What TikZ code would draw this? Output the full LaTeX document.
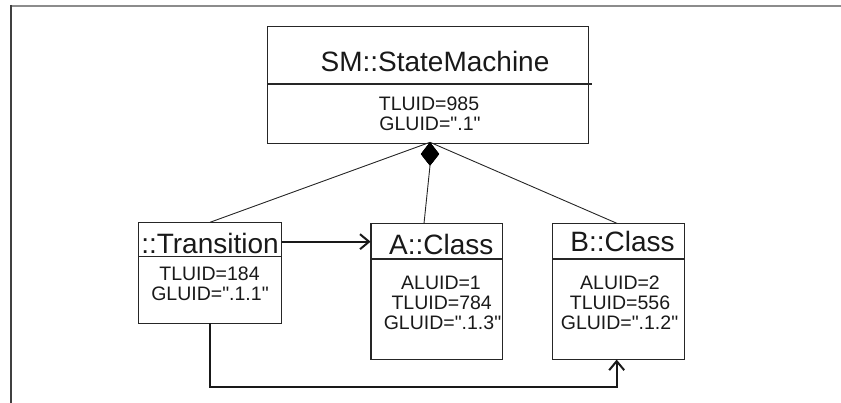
\documentclass[tikz,border=0pt]{standalone}
\usepackage{fontspec}
\setmainfont{Liberation Sans}[Ligatures=TeXOff]
\usetikzlibrary{arrows.meta,shapes.geometric}
\begin{document}
\begin{tikzpicture}[x=1pt,y=-1pt,
  box/.style={draw=black!85, line width=1.2pt, inner sep=0pt, outer sep=0pt, anchor=north west},
  divider/.style={draw=black!85, line width=1.2pt},
  big/.style={font=\fontsize{28}{28}\selectfont, inner sep=0pt, anchor=base, text=black!90},
  small/.style={font=\fontsize{19.5}{20}\selectfont, inner sep=0pt, anchor=base, text=black!90},
  link/.style={draw=black!85, line width=0.9pt},
  nav/.style={draw=black!90, line width=2pt, -{Straight Barb[length=9pt,width=15pt]}},
  comp/.style={diamond, fill=black, draw=black, inner sep=0pt, minimum width=18pt, minimum height=23pt}
]
\useasboundingbox (0,0) rectangle (841,403);
% frame
\coordinate (f0) at (10,6);
\coordinate (f1) at (841,6);
\coordinate (f2) at (10.5,5);
\coordinate (f3) at (10.5,403);
\draw[gray!90, line width=2pt] (f0) -- (f1);
\draw[black!75, line width=2pt] (f2) -- (f3);

% boxes
\node[box, minimum width=321pt, minimum height=116.6pt] (sm) at (267.3,26.7) {};
\node[box, minimum width=143.4pt, minimum height=101pt] (tr) at (138.3,222.3) {};
\node[box, minimum width=131.5pt, minimum height=135.8pt] (ac) at (371,223.5) {};
\node[box, minimum width=131.8pt, minimum height=135.8pt] (bc) at (552.3,223.5) {};

% dividers
\coordinate (smd1) at (267.3,84);   \coordinate (smd2) at (591.7,84);
\coordinate (trd1) at (138.3,256.7); \coordinate (trd2) at (281.7,256.7);
\coordinate (acd1) at (371,259);    \coordinate (acd2) at (502.5,259);
\coordinate (bcd1) at (552.3,259);  \coordinate (bcd2) at (684.1,259);
\draw[divider] (smd1) -- (smd2);
\draw[divider] (trd1) -- (trd2);
\draw[divider] (acd1) -- (acd2);
\draw[divider] (bcd1) -- (bcd2);

% texts
\node[big] (smt) at (435,71.7) {SM::StateMachine};
\node[small] (sm1) at (429,110.7) {TLUID=985};
\node[small] (sm2) at (430,130.5) {GLUID=".1"};

\node[big] (trt) at (210,253.3) {::Transition};
\node[small] (tr1) at (209.5,280.7) {TLUID=184};
\node[small] (tr2) at (210,300.7) {GLUID=".1.1"};

\node[big] (act) at (441.3,254.3) {A::Class};
\node[small] (ac1) at (441,290) {ALUID=1};
\node[small] (ac2) at (441.7,310) {TLUID=784};
\node[small] (ac3) at (442.5,330) {GLUID=".1.3"};

\node[big] (bct) at (622.5,251.7) {B::Class};
\node[small] (bc1) at (620,290) {ALUID=2};
\node[small] (bc2) at (620,310) {TLUID=556};
\node[small] (bc3) at (619.5,330) {GLUID=".1.2"};

% composition
\coordinate (trtop) at (210,222.3);
\coordinate (actop) at (424,223.5);
\coordinate (bctop) at (617.3,223.5);
\node[comp] (dia) at (430,154) {};
\draw[link] (dia.north) -- (trtop);
\draw[link] (dia.north) -- (bctop);
\draw[link] (dia.south) -- (actop);
\node[comp] (dia2) at (430,154) {};

% navigations
\coordinate (trE) at (281.7,241.7);
\coordinate (acW) at (370.6,241.7);
\draw[nav] (trE) -- (acW);
\coordinate (trS) at (210,323.3);
\coordinate (bcS) at (616.7,359.6);
\draw[nav] (trS) -- ++(0,63.4) -| (bcS);
\end{tikzpicture}
\end{document}
